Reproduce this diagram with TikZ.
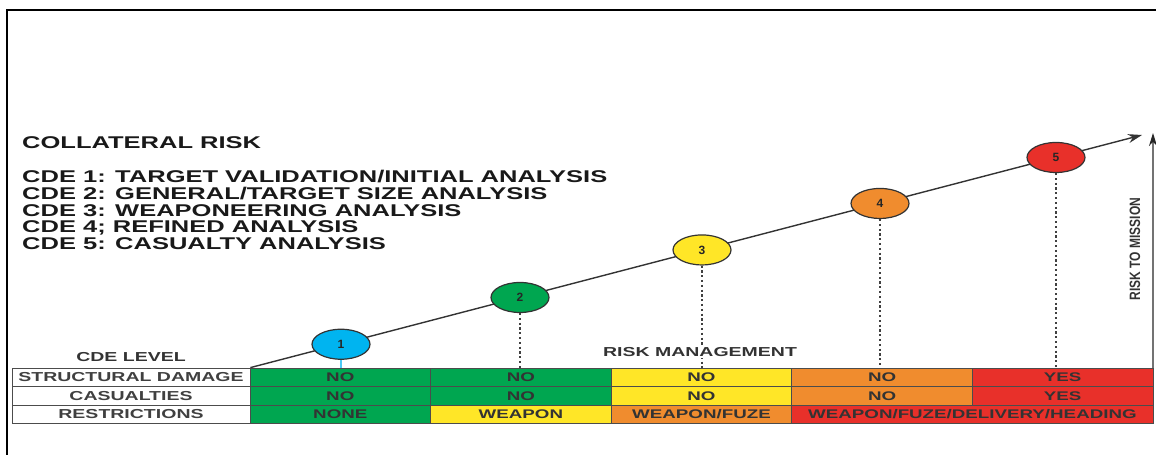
\documentclass[tikz,border=0pt]{standalone}
\usepackage{fontspec}
\setmainfont{Liberation Sans}
\usepackage{graphicx}
\usetikzlibrary{arrows.meta,shapes.geometric}

\definecolor{cdegreen}{HTML}{00A650}
\definecolor{cdeyellow}{HTML}{FFE627}
\definecolor{cdeorange}{HTML}{F08C2E}
\definecolor{cdered}{HTML}{E8302A}
\definecolor{cdeblue}{HTML}{00B4F0}

% the artwork uses a stretched bold sans
\newcommand{\wide}[1]{\scalebox{1.5}[1]{#1}}

\tikzset{
  cell/.style={draw=black!70, line width=0.8pt, minimum width=180.6pt, minimum height=18.5pt,
    inner sep=0pt, text=black!80, font=\fontsize{12.5}{12.5}\selectfont\bfseries},
  rowlabel/.style={cell, minimum width=238pt, fill=white, text=black!75,
    font=\fontsize{13}{13}\selectfont\bfseries},
  level/.style={ellipse, draw=black!80, line width=1.2pt, minimum width=58pt,
    minimum height=30pt, inner sep=0pt, text=black!85, font=\fontsize{12}{12}\selectfont\bfseries},
  drop/.style={draw=black!75, line width=2.6pt, dash pattern=on 2.2pt off 2.6pt},
  tag/.style={inner sep=1pt, text=black!80, font=\fontsize{13}{13}\selectfont\bfseries},
}

\begin{document}
\begin{tikzpicture}[x=1pt, y=-1pt]
  \useasboundingbox (0,0) rectangle (1156,455);
  \draw[line width=2.6pt] (6,10) -- (1156,10);
  \draw[line width=2pt] (7,10) -- (7,455);

  % legend
  \node[anchor=west, inner sep=0pt, text=black!90, font=\fontsize{17}{17}\selectfont\bfseries]
    (title) at (22,143) {\wide{COLLATERAL RISK}};
  \node[anchor=west, align=left, inner sep=0pt, text=black!90,
    font=\fontsize{17}{16.8}\selectfont\bfseries] (stages) at (22,210) {%
    \wide{CDE 1: TARGET VALIDATION/INITIAL ANALYSIS}\\
    \wide{CDE 2: GENERAL/TARGET SIZE ANALYSIS}\\
    \wide{CDE 3: WEAPONEERING ANALYSIS}\\
    \wide{CDE 4; REFINED ANALYSIS}\\
    \wide{CDE 5: CASUALTY ANALYSIS}};

  % table
  \node[rowlabel] (lsd) at (131,377.25) {\wide{STRUCTURAL DAMAGE}};
  \node[rowlabel] (lcas) at (131,395.75) {\wide{CASUALTIES}};
  \node[rowlabel] (lres) at (131,414.25) {\wide{RESTRICTIONS}};
  \foreach \c/\t [count=\i] in {cdegreen/NO, cdegreen/NO, cdeyellow/NO, cdeorange/NO, cdered/YES} {
    \node[cell, fill=\c] (sd\i) at ({250+180.6*(\i-0.5)},377.25) {\wide{\t}};
    \node[cell, fill=\c] (cas\i) at ({250+180.6*(\i-0.5)},395.75) {\wide{\t}};
  }
  \foreach \c/\t [count=\i] in {cdegreen/NONE, cdeyellow/WEAPON, cdeorange/{WEAPON/FUZE}}
    \node[cell, fill=\c] (res\i) at ({250+180.6*(\i-0.5)},414.25) {\wide{\t}};
  \node[cell, fill=cdered, minimum width=361.2pt] (res4) at (972.4,414.25)
    {\wide{WEAPON/FUZE/DELIVERY/HEADING}};

  % risk line and levels
  \coordinate (tip) at (1142,135);
  \draw[black!80, line width=1.4pt, -{Stealth[length=14pt, width=9pt]}] (lsd.north east) -- (tip);
  \foreach \n/\x/\c in {1/341/cdeblue, 2/520/cdegreen, 3/702/cdeyellow, 4/880/cdeorange, 5/1056/cdered}
    \node[level, fill=\c] (lv\n) at (\x,{368-0.2612*(\x-250)}) {\n};
  \draw[cdeblue!70, line width=2pt] (lv1.south) -- (lv1.south |- sd1.north);
  \foreach \n in {2,...,5}
    \draw[drop] (lv\n.south) -- (lv\n.south |- sd\n.north);

  \node[tag] (cdelevel) at (131,357) {\wide{CDE LEVEL}};
  \node[tag, fill=white] (riskmgmt) at (700,352) {\wide{RISK MANAGEMENT}};

  % mission axis
  \coordinate (axbase) at (1153,368);
  \coordinate (axtop) at (1153,133);
  \draw[black!55, line width=1.4pt, -{Stealth[length=13pt, width=8pt, black!85]}] (axbase) -- (axtop);
  \node[rotate=90, inner sep=0pt, text=black!80, font=\fontsize{15}{15}\selectfont\bfseries]
    (mission) at (1135,249) {\scalebox{0.8}[1]{RISK TO MISSION}};
\end{tikzpicture}
\end{document}
